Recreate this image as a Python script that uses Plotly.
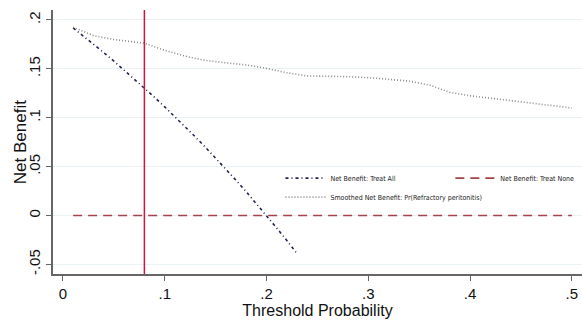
import plotly.graph_objects as go

# Threshold probabilities and net benefit values
treat_all_x = [0.01, 0.02, 0.03, 0.04, 0.05, 0.06, 0.07, 0.08, 0.09, 0.10, 0.11, 0.12,
               0.13, 0.14, 0.15, 0.16, 0.17, 0.18, 0.19, 0.20, 0.21, 0.22, 0.23]
treat_all_y = [0.1919, 0.1837, 0.1753, 0.1667, 0.1579, 0.1489, 0.1398, 0.1304, 0.1209,
               0.1111, 0.1011, 0.0909, 0.0805, 0.0698, 0.0588, 0.0476, 0.0361, 0.0244,
               0.0123, 0.0, -0.0127, -0.0256, -0.0390]

treat_none_x = [0.01, 0.50]
treat_none_y = [0.0, 0.0]

smooth_x = [0.01, 0.03, 0.05, 0.08, 0.10, 0.12, 0.14, 0.16, 0.18, 0.20, 0.22, 0.24, 0.26,
            0.28, 0.30, 0.32, 0.34, 0.36, 0.38, 0.40, 0.42, 0.44, 0.46, 0.48, 0.50]
smooth_y = [0.1925, 0.1840, 0.1800, 0.1762, 0.1690, 0.1630, 0.1585, 0.1560, 0.1540,
            0.1505, 0.1460, 0.1428, 0.1425, 0.1420, 0.1410, 0.1395, 0.1375, 0.1335,
            0.1260, 0.1225, 0.1200, 0.1175, 0.1150, 0.1125, 0.1100]

cutoff = 0.08

x_ticks = [0, 0.1, 0.2, 0.3, 0.4, 0.5]
x_labels = ["0", ".1", ".2", ".3", ".4", ".5"]
y_ticks = [-0.05, 0, 0.05, 0.1, 0.15, 0.2]
y_labels = ["-.05", "0", ".05", ".1", ".15", ".2"]

LEG_FONT = dict(family="DejaVu Sans Condensed, Liberation Sans Narrow, sans-serif",
                size=7, color="#222")

fig = go.Figure()
fig.add_trace(go.Scatter(x=treat_all_x, y=treat_all_y, mode="lines",
                         name="Net Benefit: Treat All", legend="legend",
                         line=dict(color="#22224f", width=1.6, dash="3px,3px,1px,3px")))
fig.add_trace(go.Scatter(x=treat_none_x, y=treat_none_y, mode="lines",
                         name="Net Benefit: Treat None", legend="legend2",
                         line=dict(color="#a3434b", width=1.6, dash="9px,6px")))
fig.add_trace(go.Scatter(x=smooth_x, y=smooth_y, mode="lines",
                         name="Smoothed Net Benefit: Pr(Refractory peritonitis)",
                         legend="legend",
                         line=dict(color="#8a8a8a", width=1.6, dash="1px,2px")))

fig.add_shape(type="line", x0=cutoff, x1=cutoff, y0=0, y1=1, yref="paper", xref="x",
              line=dict(color="#d0143c", width=1.5))

fig.add_annotation(text="Net Benefit", xref="paper", yref="paper", x=-0.062, y=0.5,
                   xanchor="center", yanchor="middle", textangle=-90, showarrow=False,
                   font=dict(size=17, color="#111"))

fig.update_layout(
    width=582, height=320,
    margin=dict(l=53, r=0, t=10, b=46),
    paper_bgcolor="white", plot_bgcolor="white",
    font=dict(family="Liberation Sans, Arial, sans-serif", color="#111"),
    showlegend=True,
    legend=dict(orientation="v", x=0.43, y=0.418, xanchor="left", yanchor="top",
                font=LEG_FONT, bgcolor="rgba(0,0,0,0)", itemwidth=40,
                tracegroupgap=0, borderwidth=0),
    legend2=dict(orientation="v", x=0.995, y=0.418, xanchor="right", yanchor="top",
                 font=LEG_FONT, bgcolor="rgba(0,0,0,0)", itemwidth=40,
                 tracegroupgap=0, borderwidth=0),
    xaxis=dict(range=[-0.0098, 0.510], tickvals=x_ticks, ticktext=x_labels,
               showgrid=False, zeroline=False, showline=True, linecolor="#666",
               linewidth=1.5, ticks="outside", ticklen=5, tickcolor="#666",
               tickfont=dict(size=15), title=dict(text="Threshold Probability",
               font=dict(size=16), standoff=0)),
    yaxis=dict(range=[-0.0598, 0.2102], tickvals=y_ticks, ticktext=y_labels,
               tickangle=-90, showgrid=True, gridcolor="#e8f1f3", gridwidth=1,
               zeroline=False, showline=True, linecolor="#666", linewidth=1.5,
               ticks="outside", ticklen=5, tickcolor="#666", tickfont=dict(size=15)),
)

fig.write_html("out.html")
